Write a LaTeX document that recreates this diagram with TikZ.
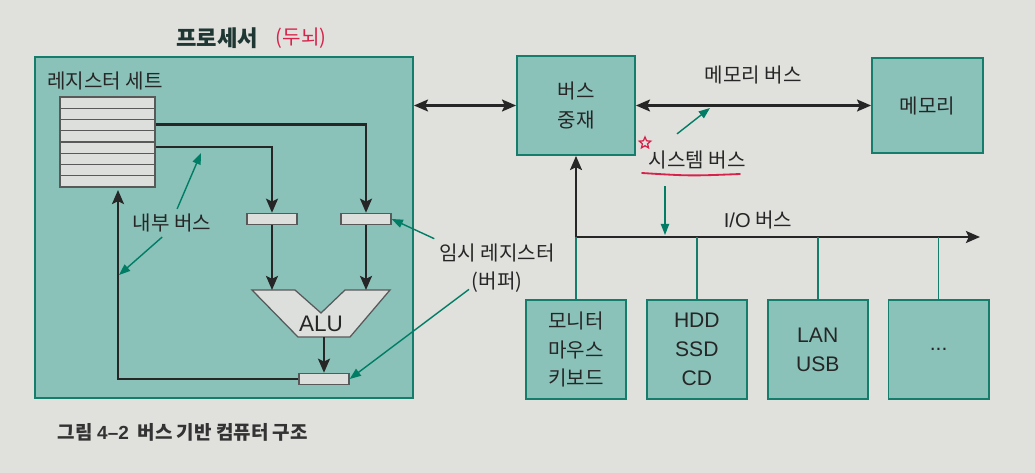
\documentclass[tikz,border=0pt]{standalone}
\usepackage{fontspec}
\setmainfont{Noto Sans CJK KR}
\newfontfamily\latinfont{Liberation Sans}
\usepackage{tikz}
\usetikzlibrary{arrows.meta}
\usetikzlibrary{calc}
\usetikzlibrary{shapes.geometric}
\usetikzlibrary{positioning}

\definecolor{paper}{RGB}{224,224,221}
\definecolor{tealfill}{RGB}{138,194,185}
\definecolor{tealline}{RGB}{20,125,108}
\definecolor{notegreen}{RGB}{0,125,100}
\definecolor{regfill}{RGB}{221,223,221}
\definecolor{inkred}{RGB}{215,35,75}
\definecolor{titleink}{RGB}{30,55,50}

\begin{document}
\begin{tikzpicture}[x=0.025cm, y=-0.025cm,
    every node/.style={font=\fontsize{14.3}{20}\selectfont, text=black!85},
    latin/.style={font=\fontsize{15}{20.5}\selectfont\latinfont},
    unit/.style={draw=tealline, fill=tealfill, line width=1.3pt, minimum width=2.5cm, minimum height=2.475cm, align=center, inner sep=0pt},
    reg/.style={draw=black!65, fill=regfill, line width=0.9pt, minimum width=1.25cm, minimum height=0.28cm, inner sep=0pt},
    bus/.style={line width=1.5pt, draw=black!85, -{Stealth[length=10pt,width=8.5pt,inset=2pt]}},
    dbus/.style={bus, {Stealth[length=10pt,width=8.5pt,inset=2pt]}-{Stealth[length=10pt,width=8.5pt,inset=2pt]}},
    drop/.style={line width=1.3pt, draw=tealline},
    note/.style={line width=1pt, draw=notegreen, -{Triangle[length=8pt,width=6pt]}}]
        \fill[paper] (0,0) rectangle (1035,473);

        % processor
        \node[draw=tealline, fill=tealfill, line width=1.3pt, minimum width=9.45cm, minimum height=8.525cm, inner sep=0pt] (proc) at (224,227.5) {};
        \node[font=\fontsize{15.8}{18}\selectfont\bfseries, text=titleink] (title) at (217,38) {프로세서};
        \node[text=inkred, right=0.2cm of title] (brain) {(두뇌)};
        \node (rslabel) at (105,81) {레지스터 세트};
        \node[reg, minimum width=2.375cm, minimum height=2.25cm] (regset) at (107.5,142) {};
        \foreach \i in {1,...,7}
            \draw[black!65, line width=0.9pt] (60,{97+\i*11.25}) -- (155,{97+\i*11.25});
        \coordinate (r3) at ($(regset.north east)+(0,28.1)$);
        \coordinate (r5) at ($(regset.north east)+(0,50.6)$);
        \node[reg] (tmpa) at (272,219) {};
        \node[reg] (tmpb) at (366,219) {};
        \draw[fill=regfill, draw=black!65, line width=0.9pt] (252,290) -- (295,290) -- (321,313) -- (345,290) -- (390,290) -- (350,337) -- (298,337) -- cycle;
        \node[latin, font=\fontsize{16}{18}\selectfont\latinfont] (alu) at (321,324) {ALU};
        \coordinate (alua) at (272,290);
        \coordinate (alub) at (366,290);
        \coordinate (aluo) at (324,337);
        \node[reg] (outreg) at (324,379) {};
        \coordinate (fb) at (118,190);

        \draw[bus] (r3) -| (tmpb.north);
        \draw[bus] (r5) -| (tmpa.north);
        \draw[bus] (tmpa.south) -- (alua);
        \draw[bus] (tmpb.south) -- (alub);
        \draw[bus] (aluo) -- (outreg.north);
        \draw[bus] (outreg.west) -| (fb);

        \node (ibus) at (172,223) {내부 버스};
        \coordinate (ibus1) at (201,153);
        \coordinate (ibus2) at (119,275);
        \draw[note] (ibus.70) -- (ibus1);
        \draw[note] (ibus.235) -- (ibus2);

        \node[align=center] (tmplbl) at (497,268) {임시 레지스터\\(버퍼)};
        \draw[note] (tmplbl.north west) -- (tmpb.east);
        \draw[note] ($(tmplbl.south)+(-28,-8)$) -- (outreg.east);

        % system side
        \node[unit, minimum width=2.95cm] (arb) at (576,105.5) {버스\\중재};
        \node[unit, minimum width=2.775cm, minimum height=2.375cm] (mem) at (927.5,105.5) {메모리};
        \draw[dbus] (proc.east |- arb) -- (arb.west);
        \draw[dbus] (arb) -- (mem);
        \node (membus) at (753,75) {메모리 버스};

        \node (sysbus) at (697,160) {시스템 버스};
        \coordinate (sb1) at (710,108);
        \coordinate (sb2) at (665,235);
        \draw[note] ($(sysbus.north)+(-20,-12)$) -- (sb1);
        \draw[note] ($(sysbus.south)+(-32,12)$) -- (sb2);
        \draw[inkred, line width=1.3pt, line cap=round] (642,173) .. controls (690,176) .. (740,174);
        \node[star, star points=5, star point ratio=2.2, draw=inkred, line width=0.9pt, minimum size=0.3cm, inner sep=0pt] (mark) at (645,143) {};

        \coordinate (iostart) at (576,237);
        \coordinate (ioend) at (980,237);
        \draw[bus, line width=1.8pt] (iostart) -- (ioend);
        \draw[bus] (iostart) -- (arb.south);
        \node (iobus) at (758,220) {{\latinfont I/O} 버스};

        \node[unit] (dev1) at (576,349.5) {모니터\\마우스\\키보드};
        \node[unit, latin, right=0.475cm of dev1] (dev2) {HDD\\SSD\\CD};
        \node[unit, latin, right=0.475cm of dev2] (dev3) {LAN\\USB};
        \node[unit, latin, right=0.475cm of dev3] (dev4) {...};
        \foreach \d in {dev1,dev2,dev3,dev4}
            \draw[drop] (\d.north) -- (\d.north |- iostart);

        \node[font=\fontsize{13.5}{16}\selectfont\bfseries, text=black!80, anchor=west] (caption) at (53,432) {그림 {\latinfont\bfseries 4–2}\ \ 버스 기반 컴퓨터 구조};
    \end{tikzpicture}
\end{document}
